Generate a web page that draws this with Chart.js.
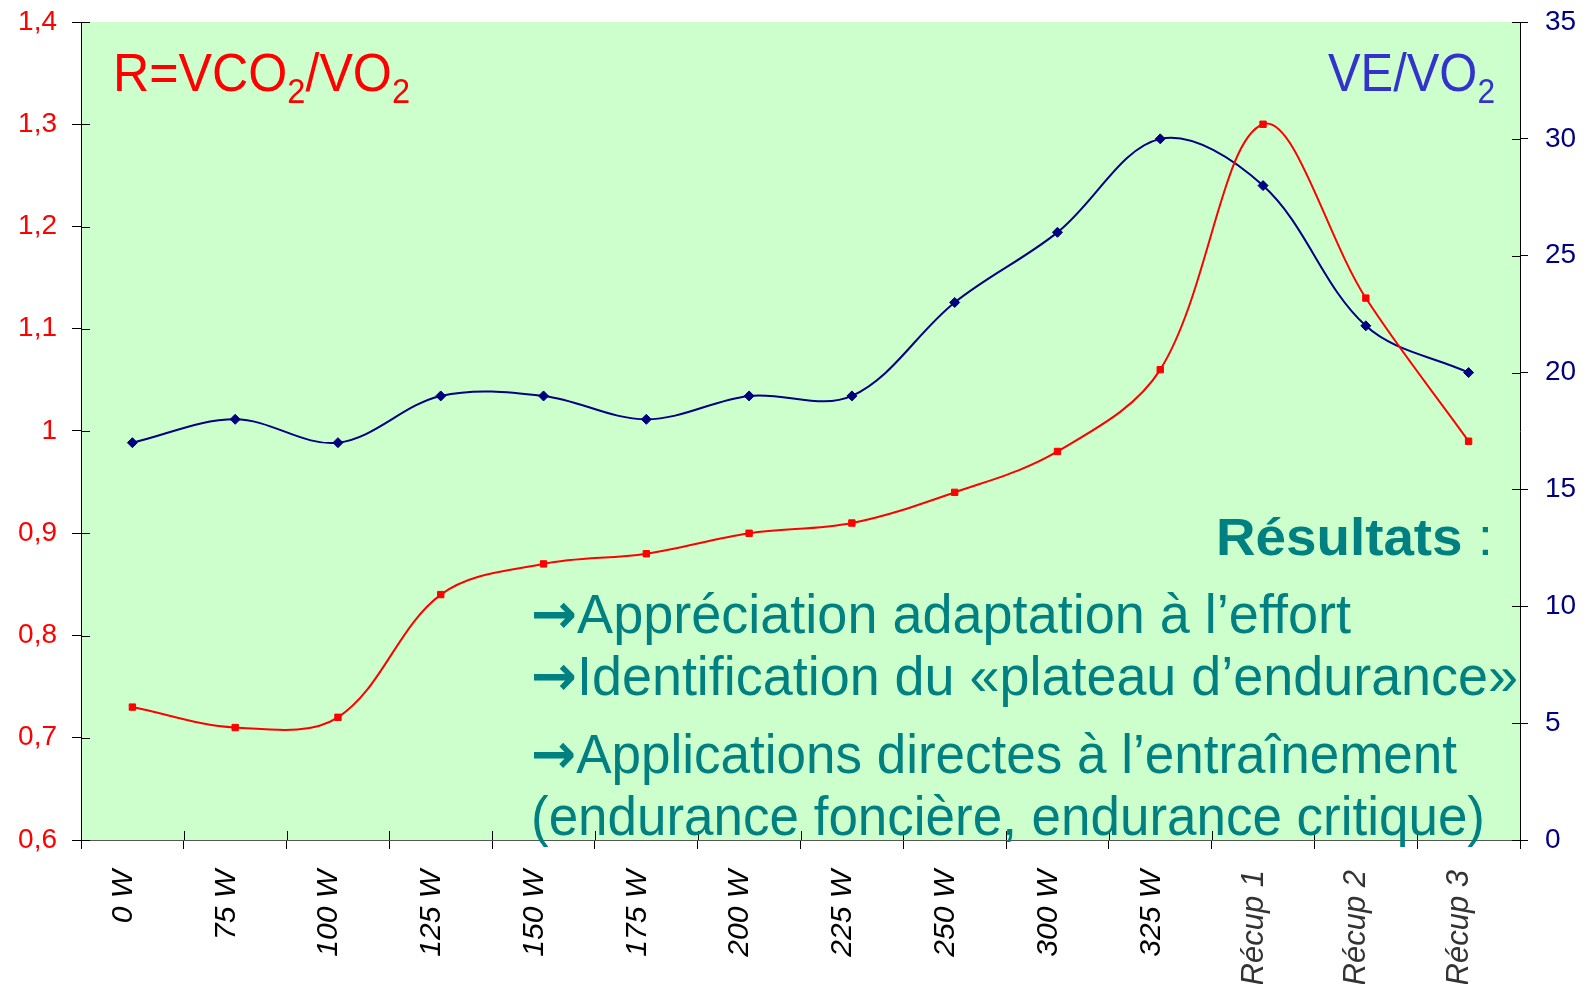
<!DOCTYPE html>
<html><head><meta charset="utf-8">
<script src="https://cdn.jsdelivr.net/npm/chart.js@4/dist/chart.umd.min.js"></script>
<style>html,body{margin:0;padding:0;background:#fff;overflow:hidden}canvas{display:block}</style>
</head><body>
<canvas id="c" width="1595" height="984"></canvas>
<script>
const categories = ['0 W','75 W','100 W','125 W','150 W','175 W','200 W','225 W','250 W','300 W','325 W','Récup 1','Récup 2','Récup 3'];
const rValues  = [0.73,0.71,0.72,0.84,0.87,0.88,0.90,0.91,0.94,0.98,1.06,1.30,1.13,0.99];
const veValues = [17,18,17,19,19,18,19,19,23,26,30,28,22,20];
const leftTickLabels  = ['0,6','0,7','0,8','0,9','1','1,1','1,2','1,3','1,4'];
const rightTickLabels = ['0','5','10','15','20','25','30','35'];

const FAM = '"Liberation Sans", Arial, sans-serif';
const TEAL = '#008080';

function drawFitted(ctx, parts, x, baseline, width, color) {
  ctx.save();
  let natural = 0;
  parts.forEach(p => { ctx.font = p.font; p.w = ctx.measureText(p.text).width; natural += p.w; });
  const sx = width / natural;
  ctx.translate(x, baseline);
  ctx.scale(sx, 1);
  ctx.fillStyle = color; ctx.textBaseline = 'alphabetic'; ctx.textAlign = 'left';
  let cx = 0;
  parts.forEach(p => { ctx.font = p.font; ctx.fillText(p.text, cx, p.dy || 0); cx += p.w; });
  ctx.restore();
}

const bgPlugin = {
  id: 'bg',
  beforeDraw(chart) {
    const {ctx, chartArea: a} = chart;
    ctx.save(); ctx.fillStyle = '#CCFFCC';
    ctx.fillRect(a.left, a.top, a.right - a.left, a.bottom - a.top);
    ctx.restore();
  }
};

const innerTicks = {
  id: 'innerTicks',
  afterDraw(chart) {
    const {ctx, chartArea: a, scales} = chart;
    ctx.save(); ctx.strokeStyle = '#000'; ctx.lineWidth = 1; ctx.beginPath();
    scales.y.ticks.forEach((t, i) => { const py = Math.round(scales.y.getPixelForTick(i)) + 0.5; ctx.moveTo(a.left, py); ctx.lineTo(a.left + 9, py); });
    scales.y1.ticks.forEach((t, i) => { const py = Math.round(scales.y1.getPixelForTick(i)) + 0.5; ctx.moveTo(a.right - 8, py); ctx.lineTo(a.right, py); });
    const xs = scales.x;
    for (let i = 0; i <= categories.length; i++) {
      const px = Math.round(xs.getPixelForValue(i - 0.5)) + 0.5;
      ctx.moveTo(px, a.bottom - 9); ctx.lineTo(px, a.bottom);
    }
    ctx.stroke(); ctx.restore();
  }
};

const textPlugin = {
  id: 'texts',
  afterDraw(chart) {
    const ctx = chart.ctx;
    drawFitted(ctx, [
      {text: 'R=VCO', font: '54px ' + FAM},
      {text: '2', font: '35px ' + FAM, dy: 12},
      {text: '/VO', font: '54px ' + FAM},
      {text: '2', font: '35px ' + FAM, dy: 12}
    ], 113, 91, 297, '#FF0000');
    drawFitted(ctx, [
      {text: 'VE/VO', font: '54px ' + FAM},
      {text: '2', font: '35px ' + FAM, dy: 12}
    ], 1328, 91, 167, '#3333CC');
    drawFitted(ctx, [
      {text: 'Résultats', font: 'bold 51px ' + FAM},
      {text: ' :', font: '51px ' + FAM}
    ], 1216, 555, 277, TEAL);
    const arrow = () => ({text: '→', font: 'bold 56px "DejaVu Sans", ' + FAM});
    drawFitted(ctx, [arrow(), {text: 'Appréciation adaptation à l’effort', font: '55px ' + FAM}], 531, 633, 820, TEAL);
    drawFitted(ctx, [arrow(), {text: 'Identification du «plateau d’endurance»', font: '55px ' + FAM}], 531, 695, 987, TEAL);
    drawFitted(ctx, [arrow(), {text: 'Applications directes à l’entraînement', font: '55px ' + FAM}], 531, 773, 926, TEAL);
    drawFitted(ctx, [{text: '(endurance foncière, endurance critique)', font: '55px ' + FAM}], 531, 835, 954, TEAL);
  }
};

function fixVertical(width) {
  return function (s) { s.width = width; s.paddingTop = 0; s.paddingBottom = 0; };
}

new Chart(document.getElementById('c'), {
  type: 'line',
  data: {
    labels: categories,
    datasets: [
      { label: 'R=VCO2/VO2', data: rValues, yAxisID: 'y', borderColor: '#FF0000', backgroundColor: '#FF0000',
        borderWidth: 2, pointStyle: 'rect', pointRadius: 4.5, pointBorderWidth: 1, tension: 0.35, fill: false },
      { label: 'VE/VO2', data: veValues, yAxisID: 'y1', borderColor: '#000080', backgroundColor: '#000080',
        borderWidth: 2, pointStyle: 'rectRot', pointRadius: 5, pointBorderWidth: 1, tension: 0.35, fill: false }
    ]
  },
  options: {
    responsive: false, animation: false, devicePixelRatio: 1,
    layout: { padding: { top: 22, left: 0, right: 0, bottom: 0 } },
    plugins: { legend: { display: false }, tooltip: { enabled: false } },
    scales: {
      x: {
        type: 'category', offset: true,
        grid: { display: true, offset: true, drawOnChartArea: false, drawTicks: true, tickLength: 9, color: '#000', lineWidth: 1 },
        border: { display: true, color: '#555', width: 1 },
        ticks: { autoSkip: false, maxRotation: 90, minRotation: 90, padding: 21, labelOffset: -9,
          color: c => c.index >= 11 ? '#333' : '#000',
          font: c => ({ family: FAM, size: c.index >= 11 ? 31 : 30, style: 'italic' }) },
        afterFit(s) { s.height = 144; s.paddingLeft = 0; s.paddingRight = 0; }
      },
      y: {
        position: 'left', min: 0.6, max: 1.4,
        ticks: { stepSize: 0.1, callback: (v, i) => leftTickLabels[i], color: '#FF0000', font: { family: FAM, size: 28 }, padding: 15 },
        grid: { drawOnChartArea: false, tickLength: 9, color: '#000' },
        border: { display: true, color: '#000', width: 1 },
        afterFit: fixVertical(81)
      },
      y1: {
        position: 'right', min: 0, max: 35,
        ticks: { stepSize: 5, callback: (v, i) => rightTickLabels[i], color: '#000080', font: { family: FAM, size: 28 }, padding: 17 },
        grid: { drawOnChartArea: false, tickLength: 8, color: '#000' },
        border: { display: true, color: '#000', width: 1 },
        afterFit: fixVertical(75)
      }
    }
  },
  plugins: [bgPlugin, innerTicks, textPlugin]
});
</script>
</body></html>
